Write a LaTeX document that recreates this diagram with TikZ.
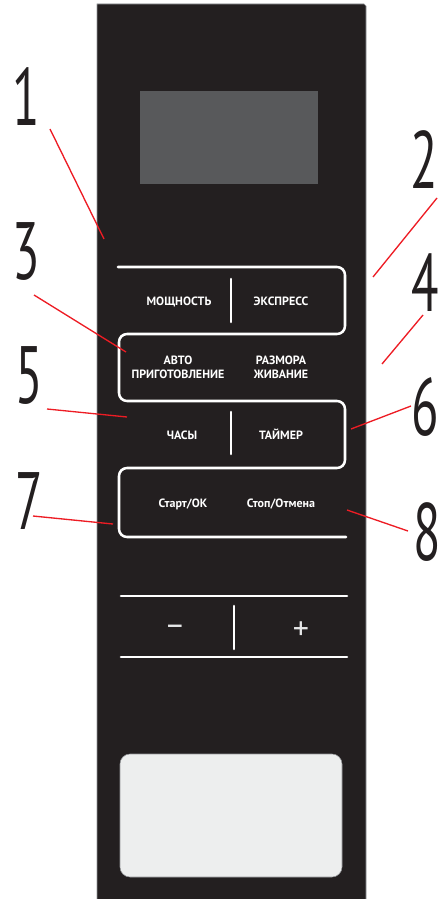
\documentclass[tikz,border=0pt]{standalone}
\usepackage{fontspec}
\setmainfont{PT Sans}
\definecolor{panelc}{HTML}{231F20}
\definecolor{dispc}{HTML}{58595B}
\definecolor{lightc}{HTML}{EDEEEE}
\definecolor{calloutred}{HTML}{ED1C24}
\definecolor{numc}{HTML}{231F20}
\definecolor{edgec}{HTML}{939598}
\definecolor{signc}{HTML}{E6E7E8}
\begin{document}
\begin{tikzpicture}[x=0.75pt,y=-0.75pt,
  keyline/.style={draw=white, line width=1.9pt, line cap=round, rounded corners=6pt},
  divider/.style={draw=white, line width=1.9pt, line cap=round},
  keytext/.style={text=white, font=\bfseries\fontsize{9}{10.5}\selectfont, align=center, inner sep=0pt, anchor=base},
  signtext/.style={text=signc, font=\fontsize{24}{24}\selectfont, inner sep=0pt, anchor=base},
  callout/.style={draw=calloutred, line width=1pt},
  numlabel/.style={text=numc, inner sep=0pt, font=\fontsize{61}{61}\selectfont}
]
\useasboundingbox (0,0) rectangle (445,899);
% panel
\fill[panelc] (97,899) -- (97,4) -- (364,4) -- (366,6) -- (366,899) -- cycle;
\draw[edgec, line width=0.4pt] (97,899) -- (97,4) -- (364,4) -- (366,6) -- (366,899);
% display
\fill[dispc] (140,91) rectangle (318,184);
% serpentine key outline
\draw[keyline] (118,267) -- (345,267) -- (345,334) -- (119,334) -- (119,401) -- (345,401) -- (345,468) -- (119,468) -- (119,537) -- (346,537);
\draw[divider] (231,279) -- (231,322);
\draw[divider] (231,412) -- (231,454);
% key texts
\node[keytext] (k1) at (179,305) {МОЩНОСТЬ};
\node[keytext] (k2) at (281,305) {ЭКСПРЕСС};
\node[keytext] (k3) at (178,378) {АВТО\\ПРИГОТОВЛЕНИЕ};
\node[keytext] (k4) at (281,378) {РАЗМОРА\\ЖИВАНИЕ};
\node[keytext] (k5) at (182,439) {ЧАСЫ};
\node[keytext] (k6) at (281,439) {ТАЙМЕР};
\node[keytext] (k7) at (183,507) {Старт/ОК};
\node[keytext] (k8) at (281,507) {Стоп/Отмена};
% minus / plus
\draw[divider] (121,596) -- (347,596);
\draw[divider] (121,657) -- (347,657);
\draw[divider] (234,606) -- (234,649);
\node[signtext] (minus) at (175,635) {–};
\node[signtext] (plus) at (301,639) {+};
% bottom window
\filldraw[fill=lightc, draw=edgec, line width=0.4pt, rounded corners=7.5pt] (120,754) rectangle (342,877);
% numbers
\node[numlabel] (n1) at (26,97) {\scalebox{0.62}[1]{1}};
\node[numlabel] (n2) at (424,160) {\scalebox{0.62}[1]{2}};
\node[numlabel] (n3) at (26,252) {\scalebox{0.62}[1]{3}};
\node[numlabel] (n4) at (425,283) {\scalebox{0.62}[1]{4}};
\node[numlabel] (n5) at (29,376) {\scalebox{0.62}[1]{5}};
\node[numlabel] (n6) at (425,407) {\scalebox{0.62}[1]{6}};
\node[numlabel] (n7) at (29,501) {\scalebox{0.62}[1]{7}};
\node[numlabel] (n8) at (427,532) {\scalebox{0.62}[1]{8}};
% callout endpoints
\coordinate (a1) at (50,129);  \coordinate (b1) at (104,239);
\coordinate (a2) at (437,198); \coordinate (b2) at (373,277);
\coordinate (a3) at (34,295);  \coordinate (b3) at (126,352);
\coordinate (a4) at (423,315); \coordinate (b4) at (382,364);
\coordinate (a5) at (47,409);  \coordinate (b5) at (127,417);
\coordinate (a6) at (411,406); \coordinate (b6) at (351,429);
\coordinate (a7) at (33,516);  \coordinate (b7) at (113,524);
\coordinate (a8) at (408,531); \coordinate (b8) at (347,510);
\foreach \i in {1,...,8} { \draw[callout] (a\i) -- (b\i); }
\end{tikzpicture}
\end{document}
